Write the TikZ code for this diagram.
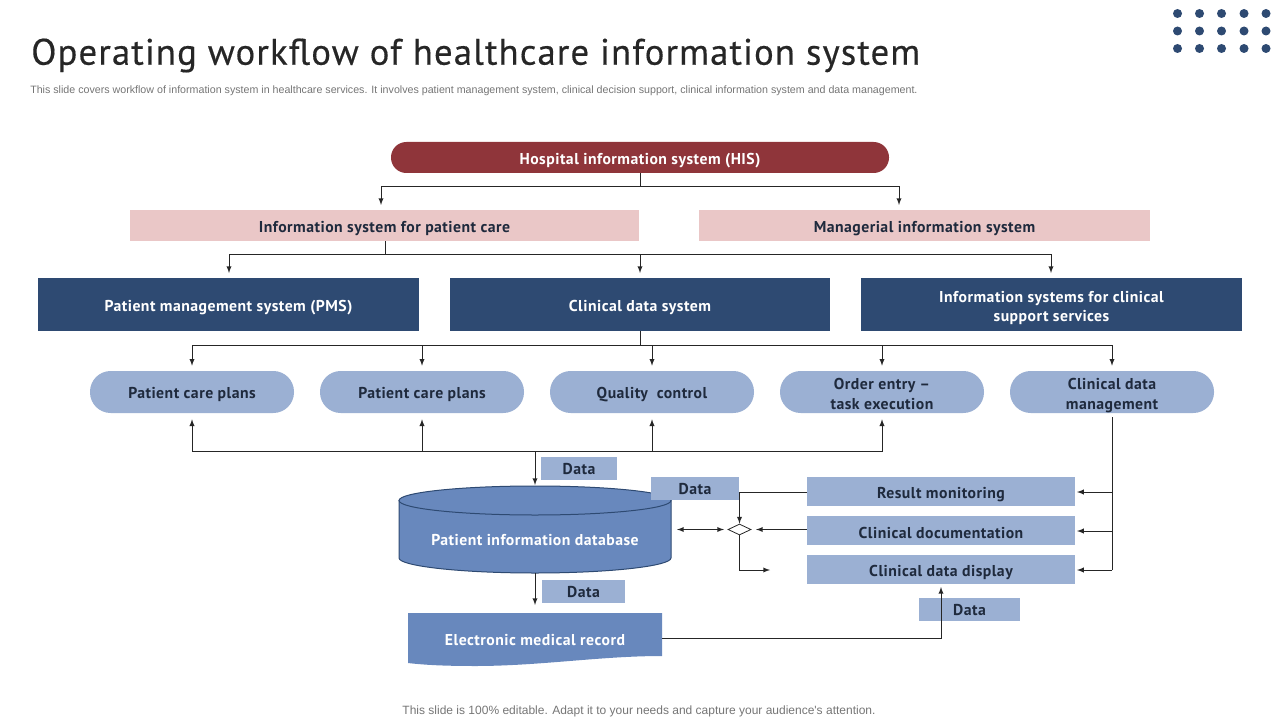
\documentclass[tikz,border=0pt]{standalone}
\usepackage{xcolor}
\usepackage{fontspec}
\setmainfont[LetterSpace=3]{PT Sans}
\newfontfamily\fontnote{Liberation Sans}
\newfontfamily\fonttitre[LetterSpace=3,FakeBold=0.35]{PT Sans}
\usetikzlibrary{shapes.geometric}
\definecolor{rougeHIS}{HTML}{8F353A}
\definecolor{roseBox}{HTML}{EAC7C7}
\definecolor{marine}{HTML}{2E4A72}
\definecolor{bleuClair}{HTML}{9BB0D3}
\definecolor{bleuMoyen}{HTML}{6888BD}
\definecolor{encre}{HTML}{1F2A3D}
\definecolor{titre}{HTML}{262626}
\definecolor{gris}{HTML}{757575}
\newcommand{\DeuxLignes}[2]{\raisebox{0pt}[0pt][0pt]{\begin{tabular}[c]{@{}c@{}}#1\\#2\end{tabular}}}
\begin{document}
\begin{tikzpicture}[x=0.75pt,y=-0.75pt]
    % Dimensions
    \def\Px{0.75pt}
    % Styles
    \tikzstyle{fleche}=[-latex,line width=0.75pt,black!85]
    \tikzstyle{trait}=[line width=0.75pt,black!85]
    \tikzstyle{fleches}=[latex-latex,line width=0.75pt,black!85]
    \tikzstyle{texte}=[font=\bfseries\fontsize{11.8}{14.8}\selectfont,inner sep=0pt,execute at end node={\rule[-1.2pt]{0pt}{1.2pt}}]
    \tikzstyle{etiquette}=[texte,execute at begin node={\rule{0pt}{12.5pt}}]
    \tikzstyle{his}=[etiquette,fill=rougeHIS,text=white,rounded corners=11.5pt,minimum width=498*\Px,minimum height=31*\Px]
    \tikzstyle{rose}=[etiquette,fill=roseBox,text=encre,minimum width=451*\Px,minimum height=31*\Px]
    \tikzstyle{systeme}=[etiquette,fill=marine,text=white,minimum width=381*\Px,minimum height=53*\Px]
    \tikzstyle{pilule}=[etiquette,fill=bleuClair,text=encre,rounded corners=15.5pt,minimum width=204*\Px,minimum height=42*\Px]
    \tikzstyle{bande}=[etiquette,fill=bleuClair,text=encre,minimum width=268*\Px,minimum height=29*\Px]
    \tikzstyle{donnee}=[texte,fill=bleuClair,text=encre,minimum height=23*\Px,execute at begin node={\rule{0pt}{10.5pt}}]
    \tikzstyle{cuve}=[fill=bleuMoyen,draw=marine,line width=0.75pt]
    \useasboundingbox (0,0) rectangle (1280,720);
    % Titre
    \node[anchor=west,inner sep=0pt,text=titre,font=\fonttitre\fontsize{27.6}{32}\selectfont] (titre) at (31,55.5) {Operating workflow of healthcare information system};
    \node[anchor=west,inner sep=0pt,text=gris,font=\fontnote\fontsize{8}{9.5}\selectfont] (sous) at (30,90.5) {This slide covers workflow of information system in healthcare services. It involves patient management system, clinical decision support, clinical information system and data management.};
    \node[inner sep=0pt,text=gris,font=\fontnote\fontsize{9}{11}\selectfont] (pied) at (639,711) {This slide is 100\% editable. Adapt it to your needs and capture your audience's attention.};
    % Points
    \foreach \x in {1177.5,1199.5,1221.5,1244,1266}
        \foreach \y in {13.5,31,48.5}
            \fill[marine] (\x,\y) circle (4.5);
    % Noeuds
    \node[his] (HIS) at (640,157.5) {Hospital information system (HIS)};
    \node[rose,minimum width=509*\Px] (soins) at (384.5,225.5) {Information system for patient care};
    \node[rose] (gestion) at (924.5,225.5) {Managerial information system};
    \node[systeme] (PMS) at (228.5,304.5) {Patient management system (PMS)};
    \node[systeme,minimum width=380*\Px] (CDS) at (640,304.5) {Clinical data system};
    \node[systeme] (ISC) at (1051.5,304.5) {\DeuxLignes{Information systems for clinical}{support services}};
    \node[pilule] (planA) at (192,392) {Patient care plans};
    \node[pilule] (planB) at (422,392) {Patient care plans};
    \node[pilule] (qualite) at (652,392) {Quality\ \ control};
    \node[pilule] (ordre) at (882,392) {\DeuxLignes{Order entry --}{task execution}};
    \node[pilule] (gerer) at (1112,392) {\DeuxLignes{Clinical data}{management}};
    % Cylindre
    \path[cuve] (399,500.5) -- (399,558) .. controls (399,566) and (460,573) .. (535,573) .. controls (610,573) and (671,566) .. (671,558) -- (671,500.5) -- cycle;
    \path[cuve] (399,500.5) .. controls (399,492.5) and (460,486) .. (535,486) .. controls (610,486) and (671,492.5) .. (671,500.5) .. controls (671,508.5) and (610,515) .. (535,515) .. controls (460,515) and (399,508.5) .. (399,500.5) -- cycle;
    \node[etiquette,text=white,minimum width=272*\Px,minimum height=71*\Px] (base) at (535,537.5) {Patient information database};
    \node[donnee,minimum width=76*\Px] (dataA) at (579,468.5) {Data};
    \node[donnee,minimum width=88*\Px] (dataB) at (695,488.5) {Data};
    \node[donnee,minimum width=83*\Px] (dataC) at (583.5,591.5) {Data};
    \node[donnee,minimum width=101*\Px] (dataD) at (969.5,609.5) {Data};
    \fill[bleuMoyen] (408,613) -- (662,613) -- (662,656) .. controls (600,656) and (540,666) .. (475,666) .. controls (445,666) and (425,665) .. (408,663) -- cycle;
    \node[etiquette,text=white,minimum width=254*\Px,minimum height=50*\Px] (dossier) at (535,638) {Electronic medical record};
    \node[bande] (resultat) at (941,491.5) {Result monitoring};
    \node[bande] (documents) at (941,530.5) {Clinical documentation};
    \node[bande] (affichage) at (941,569.5) {Clinical data display};
    \node[diamond,draw=black!85,fill=white,line width=0.6pt,aspect=2.1,minimum width=23*\Px,minimum height=11*\Px,inner sep=0pt] (choix) at (739.5,529.5) {};
    % Points de passage
    \coordinate (jHIS) at (640,186.5);
    \coordinate (aSoins) at (381,205);
    \coordinate (aGestion) at (899,205);
    \coordinate (jSoins) at (385,254);
    \coordinate (aPMS) at (229,273);
    \coordinate (aCDS) at (640,273);
    \coordinate (aISC) at (1051,273);
    \coordinate (jCDS) at (640,345);
    \coordinate (jRetour) at (535,451);
    \coordinate (aBase) at (535,485);
    \coordinate (aDossier) at (535,605);
    \coordinate (dGerer) at (1112,417);
    \coordinate (jDoc) at (1112,531);
    \coordinate (jAff) at (1112,570);
    \coordinate (jRes) at (1112,492);
    \coordinate (aRes) at (1077,492);
    \coordinate (aDoc) at (1077,531);
    \coordinate (aAff) at (1077,570);
    \coordinate (aChoix) at (756,529.5);
    \coordinate (gBase) at (677,529.5);
    \coordinate (dBase) at (724,529.5);
    \coordinate (aSortie) at (770,570);
    \coordinate (aCoude) at (739.5,492);
    \coordinate (aHaut) at (941,587);
    % Arcs
    \draw[trait] (HIS.south) -- (jHIS);
    \draw[fleche] (jHIS) -| (aSoins);
    \draw[fleche] (jHIS) -| (aGestion);
    \draw[trait] (jSoins |- soins.south) -- (jSoins);
    \draw[fleche] (jSoins) -| (aPMS);
    \draw[fleche] (jSoins) -| (aCDS);
    \draw[fleche] (jSoins) -| (aISC);
    \draw[trait] (CDS.south) -- (jCDS);
    \draw[fleche,shorten >=5*\Px] (jCDS) -| (planA.north);
    \draw[fleche,shorten >=5*\Px] (jCDS) -| (planB.north);
    \draw[fleche,shorten >=5*\Px] (jCDS) -| (qualite.north);
    \draw[fleche,shorten >=5*\Px] (jCDS) -| (ordre.north);
    \draw[fleche,shorten >=5*\Px] (jCDS) -| (gerer.north);
    \draw[fleche,shorten >=6*\Px] (jRetour) -| (planA.south);
    \draw[fleche,shorten >=6*\Px] (jRetour) -| (planB.south);
    \draw[fleche,shorten >=6*\Px] (jRetour) -| (qualite.south);
    \draw[fleche,shorten >=6*\Px] (jRetour) -| (ordre.south);
    \draw[fleche] (jRetour) -- (aBase);
    \draw[fleche] (aBase |- base.south) -- (aDossier);
    \draw[trait] (dGerer) -- (jAff);
    \draw[fleche] (jRes) -- (aRes);
    \draw[fleche] (jDoc) -- (aDoc);
    \draw[fleche] (jAff) -- (aAff);
    \draw[trait] (resultat.west |- aCoude) -- (aCoude);
    \draw[fleche] (aCoude) -- (choix.north);
    \draw[fleche] (documents.west |- aChoix) -- (aChoix);
    \draw[fleches] (gBase) -- (dBase);
    \draw[fleche] (choix.south) |- (aSortie);
    \draw[fleche] (dossier.east) -| (aHaut);
\end{tikzpicture}
\end{document}
